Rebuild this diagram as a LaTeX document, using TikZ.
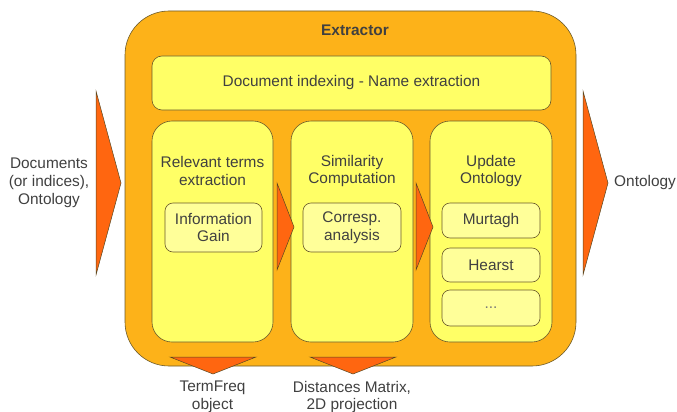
\documentclass[tikz,border=0pt]{standalone}
\usepackage{fontspec}
\setmainfont{Liberation Sans}
\definecolor{outerfill}{HTML}{FDB219}
\definecolor{colfill}{HTML}{FFFF66}
\definecolor{innerfill}{HTML}{FFFF99}
\definecolor{arrowfill}{HTML}{FF6610}
\definecolor{txt}{HTML}{404040}
\definecolor{edge}{HTML}{6B5A2A}
\begin{document}
\begin{tikzpicture}[x=1pt,y=-1pt,
  every node/.style={font=\fontsize{15.4}{17.8}\selectfont, text=txt, align=center, inner sep=0pt},
  outerbox/.style={draw=edge, line width=0.6pt, fill=outerfill, rounded corners=44pt},
  colbox/.style={draw=edge, line width=0.6pt, fill=colfill, rounded corners=20pt},
  topbox/.style={draw=edge, line width=0.6pt, fill=colfill, rounded corners=10pt},
  innerbox/.style={draw=edge, line width=0.6pt, fill=innerfill, rounded corners=8pt},
  bigarrow/.style={draw=edge!80!black, line width=0.5pt, fill=arrowfill}]
\useasboundingbox (0,0) rectangle (677,412);
% outer box
\draw[outerbox] (125,11) rectangle (576,366);
\node[font=\fontsize{15.4}{17.8}\selectfont\bfseries] (extractor) at (355,30) {Extractor};
% top box
\draw[topbox] (152,56) rectangle (551,110);
\node (docidx) at (351.5,83) {Document indexing - Name extraction};
% columns
\draw[colbox] (152,121) rectangle (273,342);
\draw[colbox] (291,121) rectangle (413,342);
\draw[colbox] (430,121) rectangle (552,342);
\node (t1) at (212.5,171) {Relevant terms\\extraction};
\node (t2) at (352,171) {Similarity\\Computation};
\node (t3) at (491,171) {Update\\Ontology};
% inner boxes
\draw[innerbox] (165,203) rectangle (262,252);
\node (ig) at (213.5,227.5) {Information\\Gain};
\draw[innerbox] (303,203) rectangle (401,252);
\node (ca) at (352,227.5) {Corresp.\\analysis};
\draw[innerbox] (442,203) rectangle (540,238);
\node (mu) at (491,220.5) {Murtagh};
\draw[innerbox] (442,248) rectangle (540,282);
\node (he) at (491,265) {Hearst};
\draw[innerbox] (442,290) rectangle (540,326);
\node[text=txt!70] (dots) at (491,308) {...};
% inner arrows
\draw[bigarrow] (277,183) -- (294,227) -- (277,270) -- cycle;
\draw[bigarrow] (416,183) -- (433,227) -- (416,270) -- cycle;
% input / output arrows
\draw[bigarrow] (96,91) -- (121,183) -- (96,275) -- cycle;
\draw[bigarrow] (583,91) -- (608,183) -- (583,275) -- cycle;
% bottom arrows
\draw[bigarrow] (170,357) -- (256,357) -- (213,374) -- cycle;
\draw[bigarrow] (310,357) -- (396,357) -- (353,374) -- cycle;
% labels
\node (in) at (49,183) {Documents\\(or indices),\\Ontology};
\node[anchor=west] (out) at (614,183) {Ontology};
\node (tf) at (212.5,397) {TermFreq\\object};
\node (dm) at (352,397) {Distances Matrix,\\2D projection};
\end{tikzpicture}
\end{document}
